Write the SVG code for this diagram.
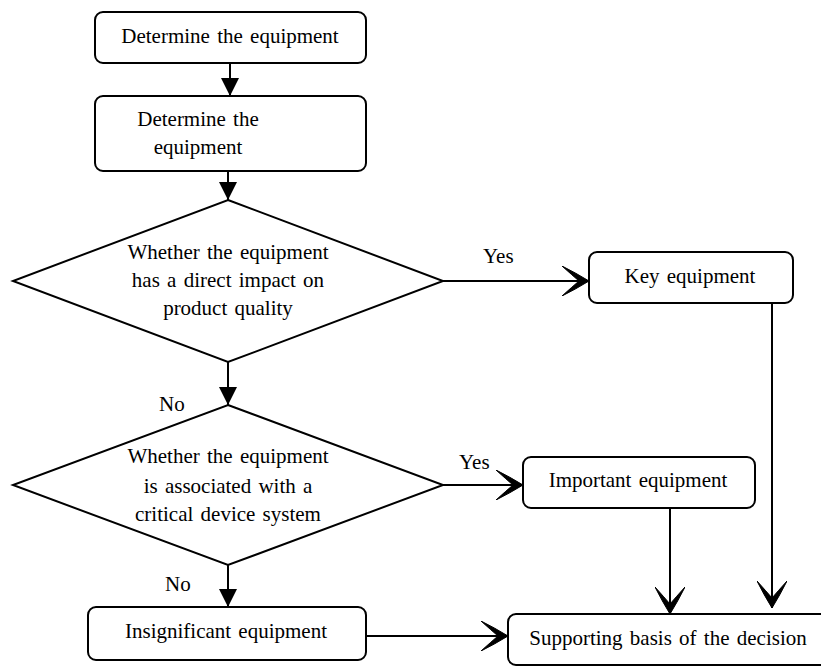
<svg xmlns="http://www.w3.org/2000/svg" width="821" height="666" viewBox="0 0 821 666">
<style>
.box{fill:#fff;stroke:#000;stroke-width:2}
.dia{fill:#fff;stroke:#000;stroke-width:2}
.t{font-family:'Liberation Serif','DejaVu Serif',serif;font-size:21px;fill:#000;word-spacing:2px}
.c{text-anchor:middle}
.ln{fill:none;stroke:#000;stroke-width:2}
</style>
<defs>
<marker id="tri" markerUnits="userSpaceOnUse" markerWidth="18" markerHeight="18" refX="18" refY="9" orient="auto">
<path d="M0,0 L18,9 L0,18 Z" fill="#000"/>
</marker>
<marker id="stealth" markerUnits="userSpaceOnUse" markerWidth="28" markerHeight="30" refX="27" refY="15" orient="auto">
<path d="M27,15 Q14,7 0,0 Q10,9 17,15 Q10,21 0,30 Q14,23 27,15 Z" fill="#000" stroke="#000" stroke-width="1"/>
</marker>
</defs>
<rect width="821" height="666" fill="#fff"/>
<g id="connectors">
<line class="ln" x1="230" y1="63" x2="230" y2="96" marker-end="url(#tri)"/>
<line class="ln" x1="228" y1="171" x2="228" y2="200" marker-end="url(#tri)"/>
<line class="ln" x1="228" y1="362" x2="228" y2="405" marker-end="url(#tri)"/>
<line class="ln" x1="228" y1="565" x2="228" y2="607" marker-end="url(#tri)"/>
<line class="ln" x1="443" y1="281" x2="589" y2="281" marker-end="url(#stealth)"/>
<line class="ln" x1="443" y1="485" x2="523" y2="485" marker-end="url(#stealth)"/>
<line class="ln" x1="772" y1="303" x2="772" y2="608" marker-end="url(#stealth)"/>
<line class="ln" x1="670" y1="508" x2="670" y2="614" marker-end="url(#stealth)"/>
<line class="ln" x1="366" y1="636" x2="508" y2="636" marker-end="url(#stealth)"/>
<text class="t" x="483" y="263">Yes</text>
<text class="t" x="459" y="469">Yes</text>
<text class="t" x="159" y="411">No</text>
<text class="t" x="165" y="591">No</text>
</g>
<g id="n1">
<rect class="box" x="95" y="12" width="271" height="51" rx="8"/>
<text class="t c" x="230" y="43">Determine the equipment</text>
</g>
<g id="n2">
<rect class="box" x="95" y="96" width="271" height="75" rx="8"/>
<text class="t c" x="198" y="126">Determine the</text>
<text class="t c" x="198" y="154">equipment</text>
</g>
<g id="d1">
<polygon class="dia" points="228,200 443,281 228,362 13,281"/>
<text class="t c" x="228" y="259">Whether the equipment</text>
<text class="t c" x="228" y="287">has a direct impact on</text>
<text class="t c" x="228" y="315">product quality</text>
</g>
<g id="d2">
<polygon class="dia" points="228,405 443,485 228,565 13,485"/>
<text class="t c" x="228" y="463">Whether the equipment</text>
<text class="t c" x="228" y="493">is associated with a</text>
<text class="t c" x="228" y="521">critical device system</text>
</g>
<g id="n3">
<rect class="box" x="589" y="252" width="204" height="51" rx="8"/>
<text class="t c" x="690" y="283">Key equipment</text>
</g>
<g id="n4">
<rect class="box" x="523" y="457" width="232" height="51" rx="8"/>
<text class="t c" x="638" y="487">Important equipment</text>
</g>
<g id="n5">
<rect class="box" x="88" y="607" width="278" height="53" rx="8"/>
<text class="t c" x="226" y="638">Insignificant equipment</text>
</g>
<g id="n6">
<rect class="box" x="508" y="614" width="330" height="51" rx="8"/>
<text class="t c" x="668" y="645">Supporting basis of the decision</text>
</g>
</svg>
